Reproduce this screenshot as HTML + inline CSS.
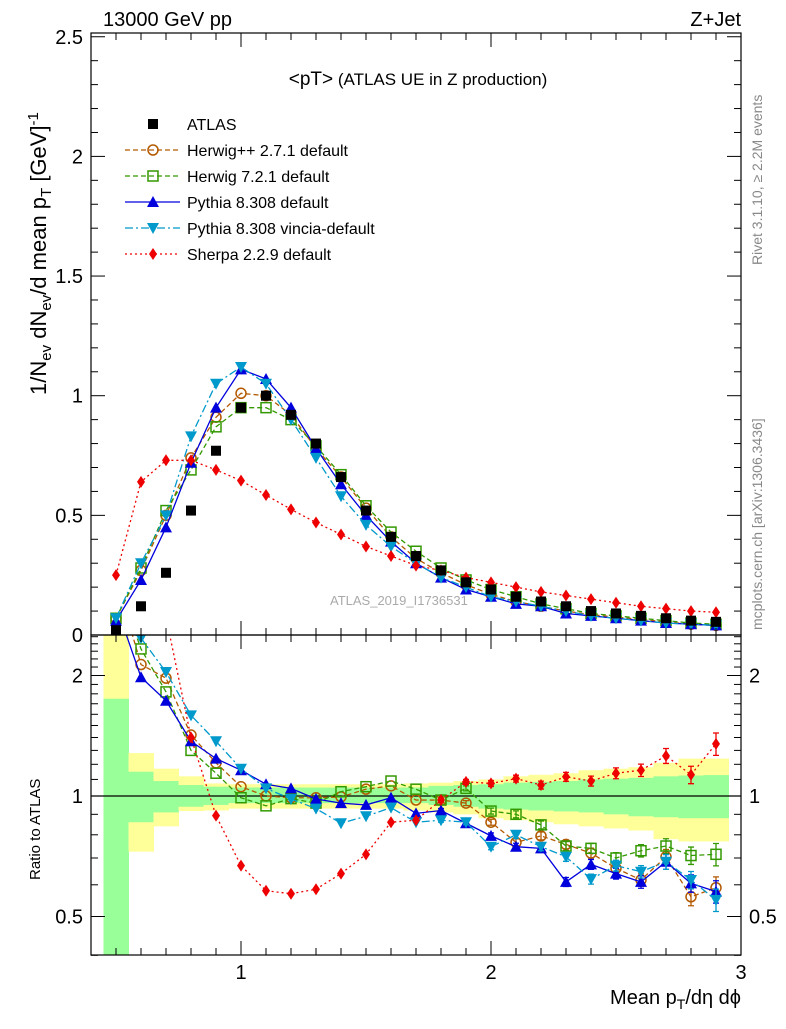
<!DOCTYPE html>
<html><head><meta charset="utf-8"><style>
body{margin:0;background:#fff}
svg text{font-family:"Liberation Sans",sans-serif}
</style></head><body>
<svg id="chart" width="786" height="1024" xmlns="http://www.w3.org/2000/svg">
<defs>
<clipPath id="cm"><rect x="91" y="33" width="650" height="602"/></clipPath>
<clipPath id="cr"><rect x="91" y="635" width="650" height="320"/></clipPath>
</defs>
<g id="bands" clip-path="url(#cr)"></g>
<g id="main" clip-path="url(#cm)"></g>
<g id="ratio" clip-path="url(#cr)"></g>
<g id="axes"></g>
<text x="103" y="26" font-size="20">13000 GeV pp</text>
<text x="741" y="26" font-size="20" text-anchor="end">Z+Jet</text>
<text x="418" y="85" font-size="17" text-anchor="middle"><tspan font-size="19">&lt;pT&gt;</tspan> (ATLAS UE in Z production)</text>
<text x="330" y="605" font-size="13" fill="#aaa">ATLAS_2019_I1736531</text>
<text transform="translate(762,265) rotate(-90)" font-size="14" fill="#888">Rivet 3.1.10, ≥ 2.2M events</text>
<text transform="translate(762,630) rotate(-90)" font-size="14" fill="#888">mcplots.cern.ch [arXiv:1306.3436]</text>
<text transform="translate(46,395) rotate(-90)" font-size="22">1/N<tspan font-size="15" dy="5">ev</tspan><tspan dy="-5"> dN</tspan><tspan font-size="15" dy="5">ev</tspan><tspan dy="-5">/d mean p</tspan><tspan font-size="15" dy="5">T</tspan><tspan dy="-5"> [GeV]</tspan><tspan font-size="15" dy="-8">-1</tspan></text>
<text transform="translate(40,880) rotate(-90)" font-size="15">Ratio to ATLAS</text>
<text x="741" y="1004" font-size="20" text-anchor="end">Mean p<tspan font-size="14" dy="5">T</tspan><tspan dy="-5">/dη dϕ</tspan></text>
<g id="legend"></g>
</svg>
<script>
const xs=[0.5,0.6,0.7,0.8,0.9,1.0,1.1,1.2,1.3,1.4,1.5,1.6,1.7,1.8,1.9,2.0,2.1,2.2,2.3,2.4,2.5,2.6,2.7,2.8,2.9];
const atlas=[0.02,0.12,0.26,0.52,0.77,0.95,1.0,0.92,0.8,0.66,0.52,0.41,0.33,0.27,0.22,0.19,0.16,0.14,0.12,0.1,0.09,0.08,0.07,0.06,0.055];
const herwigpp=[0.07,0.27,0.5,0.74,0.91,1.01,1.0,0.92,0.78,0.66,0.53,0.41,0.32,0.26,0.21,0.17,0.14,0.12,0.1,0.085,0.075,0.065,0.055,0.045,0.04];
const herwig7=[0.07,0.28,0.52,0.69,0.87,0.95,0.95,0.9,0.79,0.67,0.54,0.43,0.35,0.28,0.23,0.19,0.16,0.13,0.11,0.09,0.08,0.07,0.06,0.05,0.045];
const pythia=[0.06,0.23,0.45,0.72,0.95,1.11,1.07,0.95,0.78,0.63,0.5,0.39,0.3,0.24,0.19,0.16,0.13,0.12,0.09,0.08,0.07,0.06,0.05,0.045,0.04];
const vincia=[0.07,0.3,0.5,0.83,1.05,1.12,1.05,0.9,0.74,0.58,0.46,0.37,0.3,0.24,0.2,0.16,0.14,0.12,0.1,0.08,0.07,0.06,0.05,0.045,0.04];
const sherpa=[0.25,0.64,0.73,0.73,0.69,0.645,0.585,0.525,0.47,0.42,0.37,0.33,0.29,0.27,0.24,0.22,0.2,0.18,0.165,0.15,0.135,0.12,0.11,0.1,0.095];
const rHerwigpp=[3.5,2.13,1.97,1.42,1.21,1.055,1.0,0.99,0.99,0.995,1.04,1.06,0.977,0.977,0.96,0.86,0.766,0.795,0.757,0.72,0.66,0.617,0.705,0.56,0.59];
const rHerwig7=[3.5,2.33,1.82,1.30,1.14,0.99,0.945,0.985,0.96,1.025,1.055,1.09,1.04,0.977,1.045,0.917,0.90,0.847,0.75,0.74,0.70,0.73,0.75,0.71,0.715];
const rPythia=[3,1.98,1.73,1.37,1.24,1.16,1.07,1.045,0.983,0.96,0.95,0.99,0.905,0.92,0.855,0.795,0.747,0.74,0.61,0.675,0.64,0.61,0.685,0.605,0.577];
const rVincia=[3.5,2.48,2.04,1.59,1.37,1.17,1.045,0.983,0.93,0.855,0.89,0.935,0.86,0.87,0.86,0.747,0.80,0.747,0.705,0.62,0.67,0.647,0.685,0.617,0.55];
const rSherpa=[12,5.3,2.8,1.40,0.893,0.67,0.58,0.57,0.585,0.64,0.715,0.86,0.87,0.977,1.085,1.075,1.105,1.065,1.117,1.09,1.14,1.16,1.26,1.13,1.35];
const rErr=[0,0,0,0,0,0,0,0,0,0,0,0,0,0.008,0.01,0.012,0.014,0.016,0.018,0.02,0.022,0.025,0.03,0.035,0.045];
const yellowHi=[3,1.28,1.17,1.12,1.075,1.07,1.07,1.07,1.07,1.07,1.07,1.07,1.075,1.08,1.09,1.1,1.12,1.13,1.14,1.16,1.17,1.18,1.21,1.24,1.24];
const yellowLo=[0.3,0.726,0.84,0.917,0.92,0.93,0.93,0.93,0.93,0.93,0.93,0.93,0.92,0.91,0.9,0.88,0.87,0.86,0.85,0.84,0.83,0.82,0.78,0.77,0.77];
const greenHi=[1.75,1.15,1.09,1.065,1.055,1.05,1.05,1.05,1.05,1.05,1.05,1.05,1.05,1.06,1.065,1.07,1.08,1.085,1.09,1.1,1.105,1.11,1.12,1.125,1.128];
const greenLo=[0.3,0.86,0.91,0.94,0.95,0.96,0.96,0.96,0.96,0.96,0.96,0.96,0.96,0.95,0.94,0.93,0.925,0.92,0.915,0.91,0.9,0.89,0.885,0.88,0.88];
const xTicks=[1,2,3];
const yTicks=[0,0.5,1,1.5,2,2.5];
const rTicks=[0.5,1,2];

const NS="http://www.w3.org/2000/svg";
const X=v=>91+(v-0.4)*250;
const Y=v=>635-239.3*v;
const R=v=>796-120.5*Math.log2(v);
function mk(tag,at,parent){const e=document.createElementNS(NS,tag);for(const k in at)e.setAttribute(k,at[k]);parent.appendChild(e);return e;}
const gB=document.getElementById('bands'),gM=document.getElementById('main'),gR=document.getElementById('ratio'),gA=document.getElementById('axes'),gL=document.getElementById('legend');

xs.forEach((x,i)=>{
 let r=mk('rect',{x:X(x-0.05),y:R(yellowHi[i]),width:X(x+0.05)-X(x-0.05)+0.5,height:R(yellowLo[i])-R(yellowHi[i]),fill:'#ffff99'},gB);
 
 let g=mk('rect',{x:X(x-0.05),y:R(greenHi[i]),width:X(x+0.05)-X(x-0.05)+0.5,height:R(greenLo[i])-R(greenHi[i]),fill:'#99ff99'},gB);
 
});
let ref=mk('line',{x1:91,x2:741,y1:R(1),y2:R(1),stroke:'#000','stroke-width':1.2},gR);


const series=[
 {n:'herwigpp',d:herwigpp,r:rHerwigpp,c:'#b35900',dash:'5,3',m:'circle',label:'Herwig++ 2.7.1 default'},
 {n:'herwig7',d:herwig7,r:rHerwig7,c:'#339900',dash:'5,3',m:'square-open',label:'Herwig 7.2.1 default'},
 {n:'pythia',d:pythia,r:rPythia,c:'#0000dd',dash:'',m:'tri-up',label:'Pythia 8.308 default'},
 {n:'vincia',d:vincia,r:rVincia,c:'#0099cc',dash:'8,3,2,3',m:'tri-down',label:'Pythia 8.308 vincia-default'},
 {n:'sherpa',d:sherpa,r:rSherpa,c:'#ee0000',dash:'2,3',m:'diamond',label:'Sherpa 2.2.9 default'}
];
function marker(type,cx,cy,c,parent,name){
 let e;
 if(type==='circle')e=mk('circle',{cx,cy,r:5,fill:'none',stroke:c,'stroke-width':1.5},parent);
 else if(type==='square-open')e=mk('rect',{x:cx-5,y:cy-5,width:10,height:10,fill:'none',stroke:c,'stroke-width':1.5},parent);
 else if(type==='square')e=mk('rect',{x:cx-5,y:cy-5,width:10,height:10,fill:c},parent);
 else if(type==='tri-up')e=mk('polygon',{points:`${cx},${cy-6} ${cx-6},${cy+5} ${cx+6},${cy+5}`,fill:c},parent);
 else if(type==='tri-down')e=mk('polygon',{points:`${cx},${cy+6} ${cx-6},${cy-5} ${cx+6},${cy-5}`,fill:c},parent);
 else e=mk('polygon',{points:`${cx},${cy-6} ${cx-4},${cy} ${cx},${cy+6} ${cx+4},${cy}`,fill:c},parent);
 
}
series.forEach((s,k)=>{
 let p=mk('polyline',{points:xs.map((x,i)=>X(x)+','+Y(s.d[i])).join(' '),fill:'none',stroke:s.c,'stroke-width':1.3,'stroke-dasharray':s.dash},gM);
 
 xs.forEach((x,i)=>marker(s.m,X(x),Y(s.d[i]),s.c,gM,s.n+'-point'));
 let q=mk('polyline',{points:xs.map((x,i)=>X(x)+','+R(s.r[i])).join(' '),fill:'none',stroke:s.c,'stroke-width':1.3,'stroke-dasharray':s.dash},gR);
 
 xs.forEach((x,i)=>{
  if(rErr[i]>0){const e=rErr[i]*s.r[i]/0.7;
   let eb=mk('path',{d:`M${X(x)},${R(s.r[i]+e)}V${R(s.r[i]-e)}M${X(x)-3},${R(s.r[i]+e)}h6M${X(x)-3},${R(s.r[i]-e)}h6`,stroke:s.c,'stroke-width':1.3,fill:'none'},gR);
   }
  marker(s.m,X(x),R(s.r[i]),s.c,gR,s.n+'-ratio-point');});
 let ly=124+26*(k+1);
 let l=mk('line',{x1:125,x2:180,y1:ly,y2:ly,stroke:s.c,'stroke-width':1.3,'stroke-dasharray':s.dash},gL);
 
 marker(s.m,153,ly,s.c,gL,'legend-marker');
 let t=mk('text',{x:187,y:ly+6,'font-size':16},gL);t.textContent=s.label;
 
});
xs.forEach((x,i)=>marker('square',X(x),Y(atlas[i]),'#000',gM,'atlas-point'));
marker('square',153,124,'#000',gL,'legend-marker');
let tA=mk('text',{x:187,y:130,'font-size':16},gL);tA.textContent='ATLAS';


[[33,602],[635,320]].forEach(([y,h])=>{let f=mk('rect',{x:91,y,width:650,height:h,fill:'none',stroke:'#000','stroke-width':1.2},gA);
 });
function tick(x1,y1,x2,y2){let t=mk('line',{x1,y1,x2,y2,stroke:'#000','stroke-width':1},gA);}
for(let v=5;v<=30;v++){const x=X(v/10),big=v%10===0;
 tick(x,635,x,635-(big?14:7));tick(x,33,x,33+(big?14:7));tick(x,955,x,955-(big?14:7));tick(x,635,x,635+(big?14:7));}
for(let v=0;v<=25;v++){const y=Y(v/10),big=v%5===0;tick(91,y,91+(big?14:7),y);tick(741,y,741-(big?14:7),y);}
[0.4,0.5,0.6,0.7,0.8,0.9,1,1.1,1.2,1.3,1.4,1.5,1.6,1.7,1.8,1.9,2,2.1,2.2,2.3,2.4,2.5].forEach(v=>{const y=R(v),big=rTicks.includes(v);tick(91,y,91+(big?14:7),y);tick(741,y,741-(big?14:7),y);});
xTicks.forEach(v=>{let t=mk('text',{x:X(v),y:979,'font-size':20,'text-anchor':'middle'},gA);t.textContent=v;});
yTicks.forEach(v=>{let t=mk('text',{x:83,y:Y(v)+7,'font-size':20,'text-anchor':'end'},gA);t.textContent=v;});
rTicks.forEach(v=>{let t=mk('text',{x:83,y:R(v)+7,'font-size':20,'text-anchor':'end'},gA);t.textContent=v;
 let t2=mk('text',{x:749,y:R(v)+7,'font-size':20},gA);t2.textContent=v;});
</script>
</body></html>
